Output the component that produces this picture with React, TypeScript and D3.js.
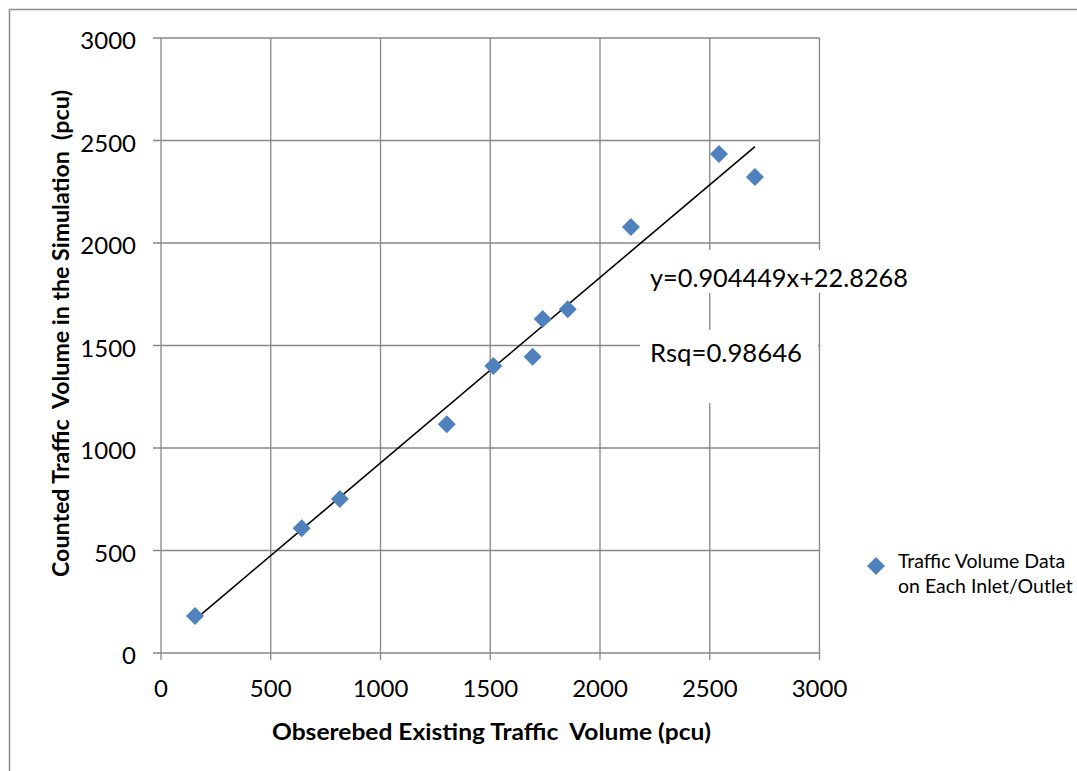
import React from "react";
import * as d3 from "d3";

// observed (x) vs simulated (y) traffic volumes, pcu
const observed = [155, 641, 815, 1302, 1514, 1693, 1739, 1853, 2141, 2542, 2706];
const simulated = [180, 608, 751, 1116, 1400, 1445, 1629, 1677, 2078, 2434, 2322];
const ticks = [0, 500, 1000, 1500, 2000, 2500, 3000];
const slope = 0.904449;
const intercept = 22.8268;
const eqLabel = "y=0.904449x+22.8268";
const rsqLabel = "Rsq=0.98646";
const legendLines = ["Traffic Volume Data", "on Each Inlet/Outlet"];
const xTitle = "Obserebed Existing Traffic  Volume (pcu)";
const yTitle = "Counted Traffic  Volume in the Simulation  (pcu)";

const W = 1077, H = 771;
const gridColor = "#878787";
const blue = "#4F81BD";
const font = "Lato, 'Open Sans', sans-serif";

const diamond = (cx: number, cy: number, r: number) =>
  `M${cx},${cy - r}L${cx + r},${cy}L${cx},${cy + r}L${cx - r},${cy}Z`;

export default function App() {
  const x = d3.scaleLinear().domain([0, 3000]).range([161, 819.5]);
  const y = d3.scaleLinear().domain([0, 3000]).range([653, 38]);

  const xs = d3.extent(observed) as [number, number];
  const trend = d3.line<number>()
    .x(d => x(d))
    .y(d => y(slope * d + intercept))(xs);

  return (
    <svg width={W} height={H} style={{ position: "absolute", left: 0, top: 0, display: "block", background: "#fff" }}>
      {/* outer chart border */}
      <rect x={9.5} y={9.5} width={W + 20} height={H + 20} fill="none" stroke="#8c8c8c" strokeWidth={1.5} />

      {/* grid lines */}
      {ticks.map(t => (
        <g key={"g" + t}>
          <line x1={153} x2={x(3000)} y1={y(t)} y2={y(t)} stroke={gridColor} strokeWidth={1.3} />
          <line x1={x(t)} x2={x(t)} y1={y(3000)} y2={660} stroke={gridColor} strokeWidth={1.3} />
        </g>
      ))}

      {/* tick labels */}
      {ticks.map(t => (
        <text key={"yl" + t} x={136} y={y(t) + 11} textAnchor="end"
          fontFamily={font} fontSize={24} fill="#000">{t}</text>
      ))}
      {ticks.map(t => (
        <text key={"xl" + t} x={x(t)} y={697} textAnchor="middle"
          fontFamily={font} fontSize={24} fill="#000">{t}</text>
      ))}

      {/* trendline */}
      <path d={trend || ""} fill="none" stroke="#000" strokeWidth={1.6} />

      {/* points */}
      {observed.map((v, i) => (
        <path key={"p" + i} d={diamond(x(v), y(simulated[i]), 9)} fill={blue} />
      ))}

      {/* trendline label boxes */}
      <rect x={640} y={250} width={275} height={43} fill="#fff" />
      <rect x={640} y={330} width={178} height={73} fill="#fff" />
      <text x={650} y={287} fontFamily={font} fontSize={25.5} textLength={258} lengthAdjust="spacingAndGlyphs" fill="#000">{eqLabel}</text>
      <text x={650} y={362} fontFamily={font} fontSize={25.5} textLength={152} lengthAdjust="spacingAndGlyphs" fill="#000">{rsqLabel}</text>

      {/* axis titles */}
      <text x={272} y={740} xmlSpace="preserve" fontFamily={font} fontWeight="bold" fontSize={22}
        textLength={439} lengthAdjust="spacingAndGlyphs" fill="#000">{xTitle}</text>
      <text transform={`translate(69,577) rotate(-90)`} xmlSpace="preserve" fontFamily={font} fontWeight="bold" fontSize={22}
        textLength={487} lengthAdjust="spacingAndGlyphs" fill="#000">{yTitle}</text>

      {/* legend */}
      <path d={diamond(876, 566, 9)} fill={blue} />
      {legendLines.map((s, i) => (
        <text key={"lg" + i} x={898} y={568 + i * 25} fontFamily={font} fontSize={19.5} fill="#000">{s}</text>
      ))}
    </svg>
  );
}
